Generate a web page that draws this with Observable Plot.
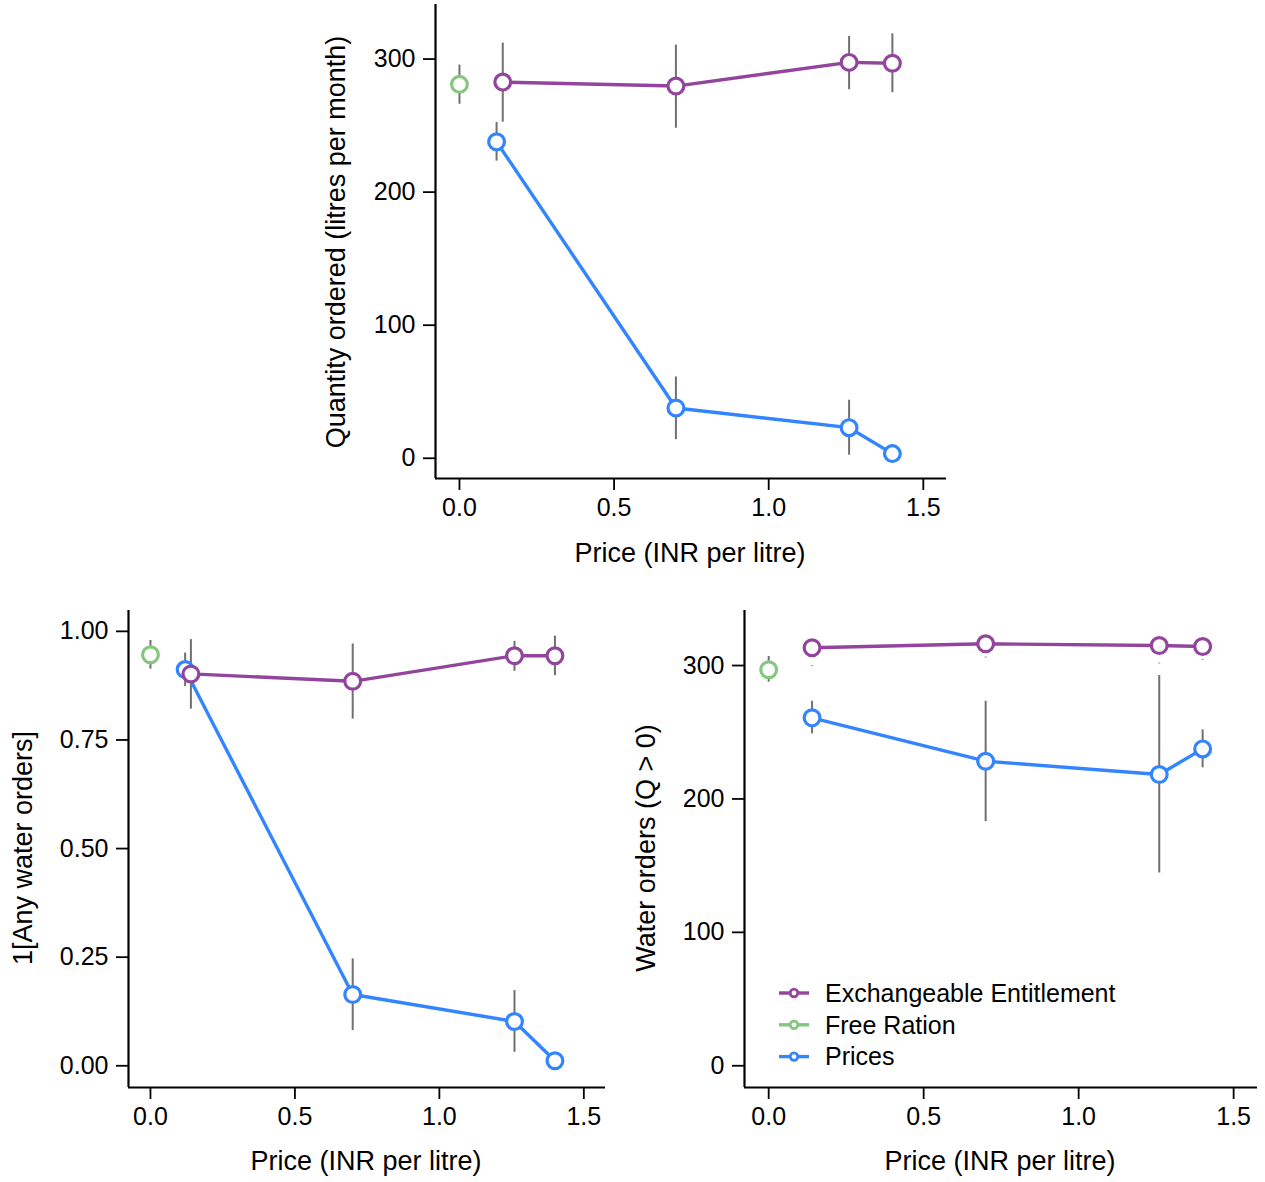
<!DOCTYPE html>
<html>
<head>
<meta charset="utf-8">
<script src="https://cdn.jsdelivr.net/npm/d3@7"></script>
<script src="https://cdn.jsdelivr.net/npm/@observablehq/plot@0.6"></script>
<style>
  html, body { margin: 0; padding: 0; background: #ffffff; }
  #root { position: relative; width: 1265px; height: 1182px; overflow: hidden; background: #ffffff; font-family: "Liberation Sans", Arial, Helvetica, sans-serif; }
  .panel { position: absolute; }
  .panel svg { overflow: visible; }
  #overlay { position: absolute; left: 0; top: 0; pointer-events: none; }
</style>
</head>
<body>
<div id="root">
  <div id="p-qty" class="panel" style="left:300px; top:0px;"></div>
  <div id="p-any" class="panel" style="left:0px; top:590px;"></div>
  <div id="p-pos" class="panel" style="left:620px; top:590px;"></div>
</div>
<script>
// ---------- data ----------
const groups = ["Exchangeable Entitlement", "Free Ration", "Prices"];
const groupColors = ["#93459D", "#86C77F", "#3385FF"];
const xTicks = [0, 0.5, 1.0, 1.5];

// Panel 1: Quantity ordered (litres per month)
const qtyEE_x = [0.14, 0.70, 1.26, 1.40];
const qtyEE_y = [282.7, 279.7, 297.5, 296.8];
const qtyEE_lo = [252.6, 248.0, 277.0, 274.7];
const qtyEE_hi = [312.0, 310.5, 317.0, 319.0];
const qtyFR_x = [0];
const qtyFR_y = [281.0];
const qtyFR_lo = [266.0];
const qtyFR_hi = [295.5];
const qtyP_x = [0.12, 0.70, 1.26, 1.40];
const qtyP_y = [237.8, 37.8, 23.0, 3.5];
const qtyP_lo = [223.3, 14.0, 2.3, 0.5];
const qtyP_hi = [252.4, 61.1, 43.6, 6.5];
const qtyYTicks = [0, 100, 200, 300];

// Panel 2: 1[Any water orders]
const anyEE_x = [0.14, 0.70, 1.26, 1.40];
const anyEE_y = [0.902, 0.885, 0.944, 0.944];
const anyEE_lo = [0.821, 0.798, 0.908, 0.898];
const anyEE_hi = [0.981, 0.971, 0.977, 0.989];
const anyFR_x = [0];
const anyFR_y = [0.946];
const anyFR_lo = [0.913];
const anyFR_hi = [0.979];
const anyP_x = [0.12, 0.70, 1.26, 1.40];
const anyP_y = [0.912, 0.164, 0.102, 0.0115];
const anyP_lo = [0.873, 0.081, 0.031, 0.005];
const anyP_hi = [0.950, 0.246, 0.173, 0.018];
const anyYTicks = [0, 0.25, 0.5, 0.75, 1.0];

// Panel 3: Water orders (Q > 0)
const posEE_x = [0.14, 0.70, 1.26, 1.40];
const posEE_y = [313.3, 316.3, 315.0, 314.3];
const posEE_lo = [299.2, 305.7, 301.2, 303.7];
const posEE_hi = [299.8, 306.3, 301.8, 304.3];
const posFR_x = [0];
const posFR_y = [296.8];
const posFR_lo = [287.5];
const posFR_hi = [306.8];
const posP_x = [0.14, 0.70, 1.26, 1.40];
const posP_y = [260.8, 228.3, 218.3, 237.5];
const posP_lo = [248.8, 183.0, 144.5, 223.3];
const posP_hi = [273.2, 273.2, 292.5, 251.8];
const posYTicks = [0, 100, 200, 300];

// ---------- helpers ----------
function rowsOf(group, xs, ys, los, his) {
  return xs.map((x, i) => ({group, x, y: ys[i], lo: los[i], hi: his[i]}));
}

const FONT = "'Liberation Sans', Arial, Helvetica, sans-serif";
const TICK_FS = 25;

function panel(cfg) {
  const rows = [
    ...rowsOf("Prices", cfg.P[0], cfg.P[1], cfg.P[2], cfg.P[3]),
    ...rowsOf("Free Ration", cfg.FR[0], cfg.FR[1], cfg.FR[2], cfg.FR[3]),
    ...rowsOf("Exchangeable Entitlement", cfg.EE[0], cfg.EE[1], cfg.EE[2], cfg.EE[3])
  ];
  return Plot.plot({
    width: cfg.width,
    height: cfg.height,
    marginLeft: cfg.ml,
    marginRight: cfg.mr,
    marginTop: cfg.mt,
    marginBottom: cfg.mb,
    style: {fontFamily: FONT, fontSize: TICK_FS + "px", color: "#000", background: "transparent", overflow: "visible"},
    x: {domain: cfg.xDomain},
    y: {domain: cfg.yDomain},
    color: {domain: groups, range: groupColors},
    marks: [
      Plot.ruleX(rows, {x: "x", y1: "lo", y2: "hi", stroke: "#707070", strokeWidth: 2}),
      Plot.line(rows, {x: "x", y: "y", z: "group", stroke: "group", strokeWidth: 3.4}),
      Plot.dot(rows, {x: "x", y: "y", stroke: "group", fill: "white", r: 7.9, strokeWidth: 3.2}),
      Plot.ruleX([cfg.xDomain[0]], {stroke: "#000", strokeWidth: 2.2}),
      Plot.ruleY([cfg.yDomain[0]], {stroke: "#000", strokeWidth: 2.2}),
      Plot.axisX({ticks: xTicks, tickFormat: d3.format(".1f"), tickSize: 12, tickPadding: 8, label: null, strokeWidth: 1.8, fontSize: TICK_FS}),
      Plot.axisY({ticks: cfg.yTicks, tickFormat: cfg.yFormat, tickSize: 12, tickPadding: 8, label: null, strokeWidth: 1.8, fontSize: TICK_FS})
    ]
  });
}

document.getElementById("p-qty").append(panel({
  width: 660, height: 560, ml: 135, mr: 14, mt: 4, mb: 82,
  xDomain: [-0.0775, 1.575], yDomain: [-15.2, 341],
  yTicks: qtyYTicks, yFormat: d3.format("d"),
  EE: [qtyEE_x, qtyEE_y, qtyEE_lo, qtyEE_hi],
  FR: [qtyFR_x, qtyFR_y, qtyFR_lo, qtyFR_hi],
  P: [qtyP_x, qtyP_y, qtyP_lo, qtyP_hi]
}));

document.getElementById("p-any").append(panel({
  width: 620, height: 560, ml: 128, mr: 15, mt: 20, mb: 63,
  xDomain: [-0.076, 1.575], yDomain: [-0.05, 1.048],
  yTicks: anyYTicks, yFormat: d3.format(".2f"),
  EE: [anyEE_x, anyEE_y, anyEE_lo, anyEE_hi],
  FR: [anyFR_x, anyFR_y, anyFR_lo, anyFR_hi],
  P: [anyP_x, anyP_y, anyP_lo, anyP_hi]
}));

document.getElementById("p-pos").append(panel({
  width: 645, height: 560, ml: 124, mr: 8, mt: 20, mb: 63,
  xDomain: [-0.078, 1.577], yDomain: [-16.3, 341.25],
  yTicks: posYTicks, yFormat: d3.format("d"),
  EE: [posEE_x, posEE_y, posEE_lo, posEE_hi],
  FR: [posFR_x, posFR_y, posFR_lo, posFR_hi],
  P: [posP_x, posP_y, posP_lo, posP_hi]
}));

// ---------- axis titles and legend (overlay) ----------
const overlay = d3.select("#root").append("svg")
  .attr("id", "overlay").attr("width", 1265).attr("height", 1182)
  .style("font-family", FONT);

const titles = [
  {text: "Price (INR per litre)", x: 690, y: 562, rot: false},
  {text: "Quantity ordered (litres per month)", x: 345, y: 242, rot: true},
  {text: "Price (INR per litre)", x: 366, y: 1170, rot: false},
  {text: "1[Any water orders]", x: 32, y: 848, rot: true},
  {text: "Price (INR per litre)", x: 1000, y: 1170, rot: false},
  {text: "Water orders (Q > 0)", x: 655, y: 848, rot: true}
];
overlay.selectAll("text.title").data(titles).join("text")
  .attr("class", "title")
  .attr("text-anchor", "middle")
  .attr("font-size", 27)
  .attr("fill", "#000")
  .attr("transform", d => d.rot ? `translate(${d.x},${d.y}) rotate(-90)` : `translate(${d.x},${d.y})`)
  .text(d => d.text);

const legendG = overlay.append("g").attr("transform", "translate(779,993)");
groups.forEach((g, i) => {
  const row = legendG.append("g").attr("transform", `translate(0,${i * 31.8})`);
  row.append("line").attr("x1", 0).attr("x2", 30).attr("y1", 0).attr("y2", 0)
    .attr("stroke", groupColors[i]).attr("stroke-width", 3.4);
  row.append("circle").attr("cx", 15).attr("cy", 0).attr("r", 3.8)
    .attr("fill", "white").attr("stroke", groupColors[i]).attr("stroke-width", 2.8);
  row.append("text").attr("x", 46).attr("y", 0).attr("dy", "0.35em")
    .attr("font-size", 25).attr("fill", "#000").text(g);
});
</script>
</body>
</html>
